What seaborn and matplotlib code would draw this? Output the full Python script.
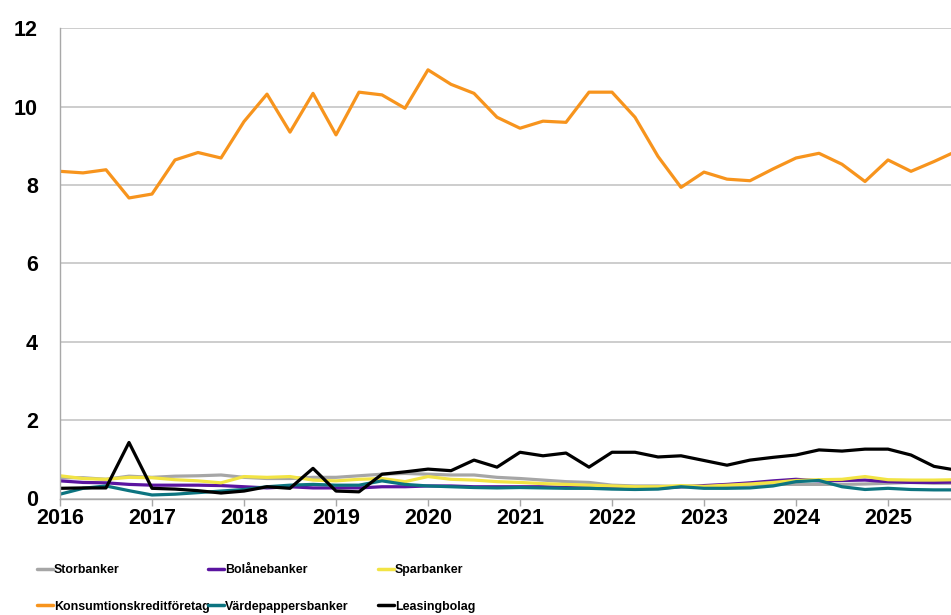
import numpy as np
import pandas as pd
import matplotlib
matplotlib.use("Agg")
import matplotlib.pyplot as plt
import seaborn as sns

# quarterly observations, 2016 Q1 .. 2025 Q4
quarters = np.arange(2016, 2026, 0.25)
years = list(range(2016, 2026))
yticks = [0, 2, 4, 6, 8, 10, 12]

storbanker = [0.53, 0.53, 0.49, 0.57, 0.54, 0.57, 0.58, 0.60, 0.54, 0.51,
              0.51, 0.54, 0.54, 0.58, 0.62, 0.64, 0.62, 0.60, 0.60, 0.54,
              0.51, 0.47, 0.43, 0.41, 0.34, 0.32, 0.32, 0.30, 0.30, 0.32,
              0.34, 0.36, 0.36, 0.36, 0.36, 0.37, 0.39, 0.41, 0.39, 0.39]
bolanebanker = [0.45, 0.41, 0.40, 0.36, 0.34, 0.34, 0.34, 0.33, 0.30, 0.27,
                0.30, 0.27, 0.27, 0.27, 0.30, 0.30, 0.32, 0.32, 0.30, 0.30,
                0.30, 0.30, 0.28, 0.27, 0.27, 0.26, 0.26, 0.30, 0.33, 0.36,
                0.40, 0.45, 0.49, 0.45, 0.46, 0.47, 0.43, 0.41, 0.41, 0.42]
sparbanker = [0.58, 0.51, 0.49, 0.54, 0.53, 0.48, 0.45, 0.40, 0.56, 0.54,
              0.56, 0.47, 0.45, 0.49, 0.51, 0.43, 0.56, 0.49, 0.47, 0.43,
              0.41, 0.38, 0.36, 0.34, 0.32, 0.30, 0.30, 0.33, 0.31, 0.34,
              0.37, 0.41, 0.46, 0.48, 0.49, 0.56, 0.48, 0.47, 0.47, 0.48]
konsumtion = [8.35, 8.31, 8.39, 7.67, 7.77, 8.64, 8.83, 8.69, 9.62, 10.32,
              9.35, 10.34, 9.28, 10.37, 10.30, 9.96, 10.94, 10.57, 10.34, 9.73,
              9.45, 9.63, 9.60, 10.37, 10.37, 9.73, 8.73, 7.94, 8.33, 8.15,
              8.11, 8.41, 8.69, 8.81, 8.53, 8.09, 8.64, 8.35, 8.60, 8.87]
vardepapper = [0.11, 0.26, 0.32, 0.20, 0.09, 0.11, 0.15, 0.19, 0.23, 0.30,
               0.34, 0.36, 0.34, 0.34, 0.45, 0.36, 0.32, 0.30, 0.28, 0.27,
               0.28, 0.27, 0.26, 0.26, 0.24, 0.23, 0.24, 0.30, 0.26, 0.26,
               0.27, 0.32, 0.43, 0.46, 0.30, 0.23, 0.26, 0.23, 0.22, 0.22]
leasing = [0.26, 0.27, 0.27, 1.43, 0.26, 0.24, 0.20, 0.14, 0.19, 0.30,
           0.26, 0.77, 0.19, 0.17, 0.62, 0.68, 0.75, 0.71, 0.98, 0.80,
           1.18, 1.09, 1.16, 0.80, 1.18, 1.18, 1.06, 1.09, 0.97, 0.85,
           0.98, 1.05, 1.11, 1.24, 1.21, 1.26, 1.26, 1.11, 0.82, 0.72]

names = ["Storbanker", "Bolånebanker", "Sparbanker",
         "Konsumtionskreditföretag", "Värdepappersbanker", "Leasingbolag"]
series = [storbanker, bolanebanker, sparbanker, konsumtion, vardepapper, leasing]
colors = ["#a6a6a6", "#5a14a0", "#f2e444", "#f7941d", "#0c7480", "#000000"]

df = pd.concat(
    [pd.DataFrame({"quarter": quarters, "value": v, "group": n}) for n, v in zip(names, series)]
)

sns.set_theme(style="white")
plt.rcParams["font.family"] = ["Liberation Sans", "DejaVu Sans"]
plt.rcParams["text.color"] = "black"
plt.rcParams["xtick.color"] = "black"
plt.rcParams["ytick.color"] = "black"

fig = plt.figure(figsize=(9.51, 6.15), dpi=100)
ax = fig.add_axes([60 / 951, 1 - 498.5 / 615, 891 / 951, 470.2 / 615])

sns.lineplot(data=df, x="quarter", y="value", hue="group", hue_order=names,
             palette=colors, linewidth=2.3, ax=ax, legend=False)

ax.set_xlim(2016, 2016 + 891 / 92)
ax.set_ylim(0, 12)
ax.set_xticks(years)
ax.set_xticklabels([str(y) for y in years])
ax.set_yticks(yticks)
ax.set_xlabel("")
ax.set_ylabel("")
ax.yaxis.grid(True, color="#c0c0c0", linewidth=1.1)
ax.set_axisbelow(True)
for s in ["top", "right"]:
    ax.spines[s].set_visible(False)
for s in ["left", "bottom"]:
    ax.spines[s].set_color("#a8a8a8")
    ax.spines[s].set_linewidth(1.0)
ax.tick_params(axis="y", length=0, pad=16, labelsize=15.5, labelcolor="black")
ax.tick_params(axis="x", length=5, width=1, color="#a8a8a8", direction="out",
               pad=1.5, labelsize=15.5, bottom=True, labelcolor="black")
for lab in ax.get_xticklabels() + ax.get_yticklabels():
    lab.set_fontweight("bold")

# legend: three equal-width columns, row-major order
handles = [plt.Line2D([], [], color=c, linewidth=2.5) for c in colors]
col_x = [37, 208, 378]
for k in range(3):
    leg = fig.legend(
        [handles[k], handles[k + 3]], [names[k], names[k + 3]],
        loc="upper left", bbox_to_anchor=(col_x[k] / 951, 1 - 564 / 615),
        frameon=False, borderpad=0, borderaxespad=0, handlelength=1.3,
        handletextpad=0.05, labelspacing=2.0,
        prop={"family": ["Liberation Sans", "DejaVu Sans"],
              "weight": "bold", "size": 8.9},
    )

fig.savefig("out.png", dpi=100)
